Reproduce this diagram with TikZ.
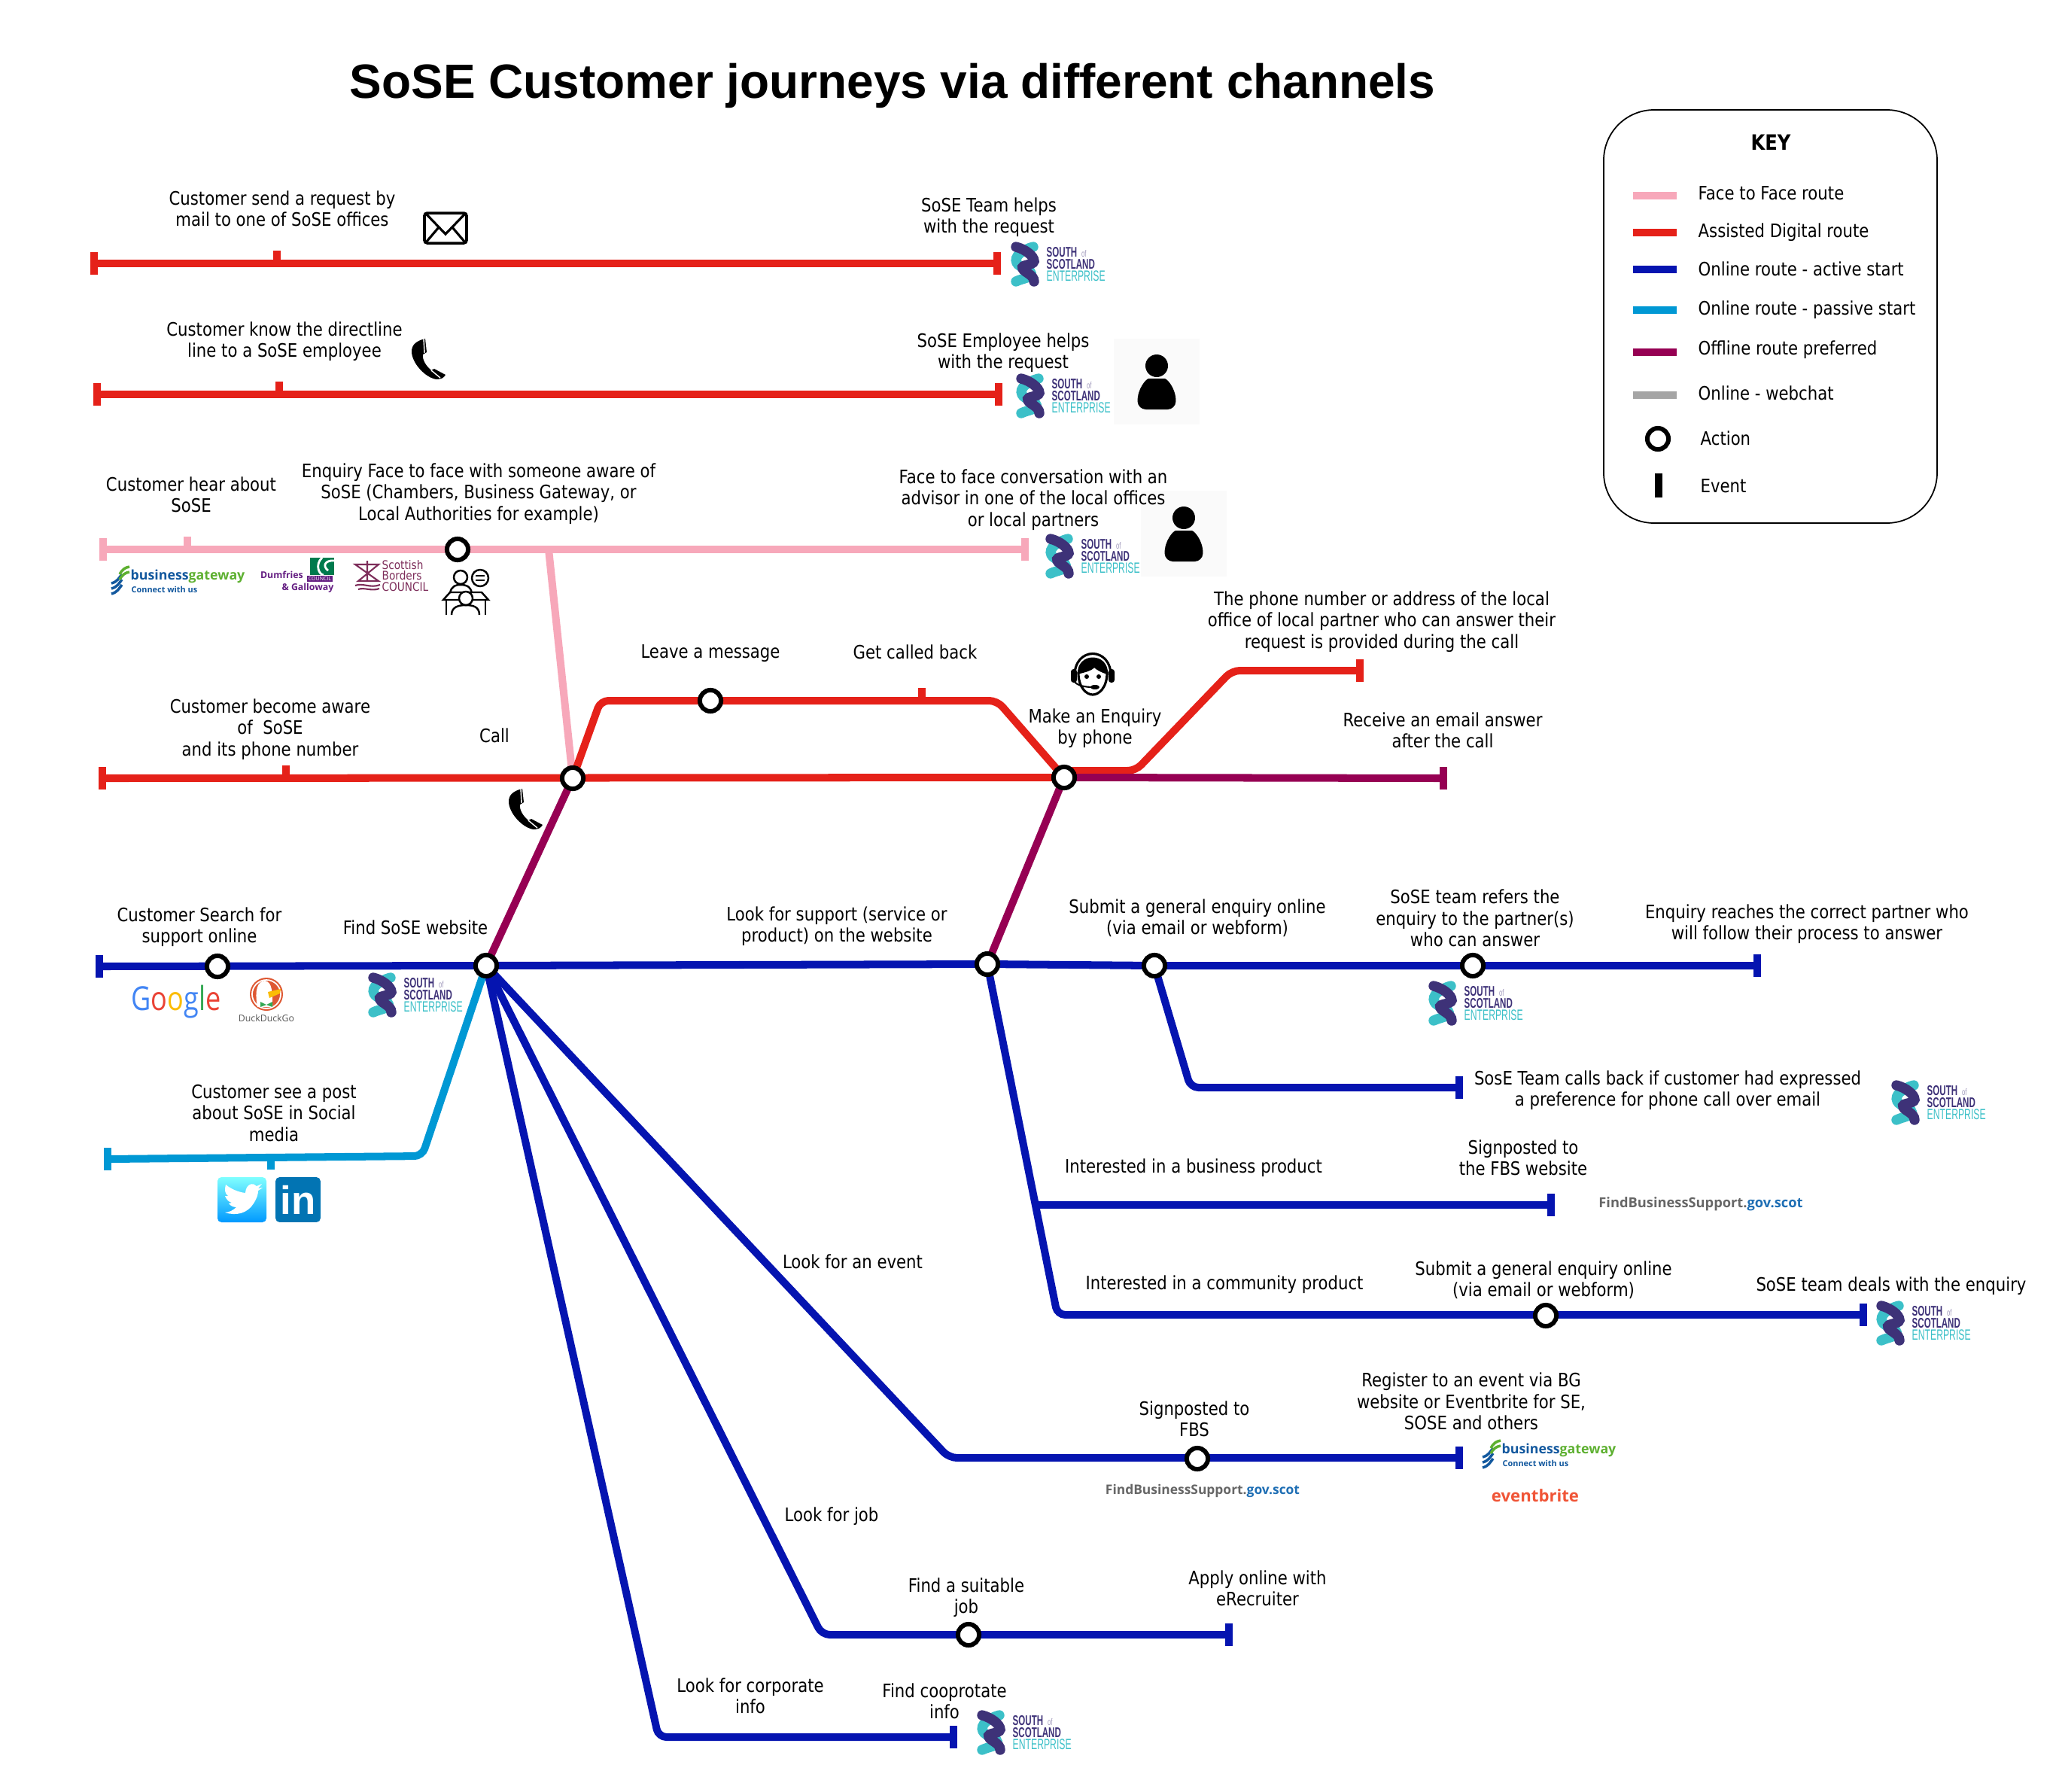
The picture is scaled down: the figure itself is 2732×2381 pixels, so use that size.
\documentclass[tikz,border=0pt]{standalone}
\usepackage{fontspec}
\setmainfont[FakeStretch=0.862]{DejaVu Sans}
\newfontfamily\titlefont{Liberation Sans}
\newfontfamily\logofont[FakeStretch=0.62]{Liberation Sans}
\newfontfamily\brandfont{Open Sans}
\usetikzlibrary{backgrounds}
\definecolor{facepink}{RGB}{247,168,186}
\definecolor{assistred}{RGB}{229,33,25}
\definecolor{onlineblue}{RGB}{5,20,176}
\definecolor{passivecyan}{RGB}{0,152,212}
\definecolor{offpurple}{RGB}{150,0,83}
\definecolor{chatgrey}{RGB}{165,165,165}
\definecolor{soseviolet}{RGB}{62,50,120}
\definecolor{soseteal}{RGB}{60,192,200}
\definecolor{bgblue}{RGB}{18,88,158}
\definecolor{bggreen}{RGB}{93,176,48}
\definecolor{dgpurple}{RGB}{100,30,130}
\definecolor{dggreen}{RGB}{0,122,77}
\definecolor{sbplum}{RGB}{125,45,90}
\definecolor{evorange}{RGB}{240,85,55}
\definecolor{govblue}{RGB}{30,110,180}
\definecolor{gblue}{RGB}{66,133,244}
\definecolor{gred}{RGB}{234,67,53}
\definecolor{gyellow}{RGB}{251,188,5}
\definecolor{ggreen}{RGB}{52,168,83}
\definecolor{duckorange}{RGB}{222,88,51}
\definecolor{inblue}{RGB}{2,116,179}
\newcommand{\LOGOTXT}[2]{{\logofont\fontsize{5.6}{5.6}\selectfont\textcolor{#1}{#2}}}
\newcommand{\LOGOBF}[2]{{\logofont\bfseries\fontsize{5.3}{5.6}\selectfont\textcolor{#1}{#2}}}
\tikzset{
  route/.style={line width=2.85pt,rounded corners=3pt},
  action/.style={circle,draw=black,fill=white,line width=1.7pt,minimum size=8pt,inner sep=0pt},
  evt/.style={rectangle,minimum width=2.9pt,minimum height=8.5pt,inner sep=0pt},
  stub/.style={rectangle,minimum width=2.9pt,minimum height=4.6pt,inner sep=0pt},
  lab/.style={align=center,inner sep=0pt,font=\fontsize{7}{8.05}\selectfont},
  swatch/.style={rectangle,minimum width=16.7pt,minimum height=2.9pt,inner sep=0pt},
  sose/.pic={
    \draw[soseteal,line width=3.8pt,line cap=round] (11,-23) .. controls (-4,-19) and (-15,-10) .. (-11,-2) .. controls (-8,5) and (7,6) .. (8,12) .. controls (9,18) and (-4,19) .. (-12,23);
    \draw[soseviolet,line width=3.8pt,line cap=round] (-12,-23) .. controls (0,-20) and (12,-11) .. (12,-4) .. controls (11,2) and (-6,0) .. (-3,6) .. controls (-1,11) and (12,14) .. (12,23);
    \node[anchor=west,inner sep=0pt] (-south) at (28,-16) {\LOGOBF{soseviolet}{SOUTH}\,\textcolor{soseviolet!50}{\logofont\fontsize{3.5}{4}\selectfont of}};
    \node[anchor=west,inner sep=0pt] (-scot) at (28,0) {\LOGOBF{soseviolet}{SCOTLAND}};
    \node[anchor=west,inner sep=0pt] (-ent) at (28,16) {\LOGOTXT{soseteal}{ENTERPRISE}};
  },
  bizgate/.pic={
    \foreach \k in {0,7,14}{\draw[bgblue,line width=1pt] (0,\k+3) .. controls (8,\k+1) and (10,\k-4) .. (14,\k-9);}
    \foreach \k in {-7,0}{\draw[bggreen,line width=1pt] (11,\k-2) .. controls (14,\k-8) and (18,\k-11) .. (24,\k-12);}
    \node[anchor=west,inner sep=0pt,font=\brandfont\bfseries\fontsize{5.05}{6}\selectfont] (-word) at (25,-6) {\textcolor{bgblue}{business}\textcolor{bggreen}{gateway}};
    \node[anchor=west,inner sep=0pt,font=\brandfont\bfseries\fontsize{3.1}{4}\selectfont,text=bgblue] (-tag) at (26,11) {Connect with us};
  },
  handset/.pic={
    \fill[black] (-5,-27) -- (-3,-9) -- (-8,-6) .. controls (-9,2) and (-3,10) .. (3,15) -- (7,13) -- (22,21) .. controls (20,25) and (16,27) .. (10,27) .. controls (-5,25) and (-23,5) .. (-23,-10) .. controls (-23,-18) and (-18,-24) .. (-5,-27) -- cycle;
    \draw[white,line width=.4pt] (-7,-27) -- (-6,-8) (3,15) -- (15,25);
  },
  person/.pic={
    \fill[black!2] (-57,-57) rectangle (57,57);
    \fill[black] (0,-21) circle (15);
    \fill[black,rounded corners=3pt] (-25,37) .. controls (-26,10) and (-14,-4) .. (0,-4) .. controls (14,-4) and (26,10) .. (25,37) -- cycle;
  }
}
\begin{document}
\begin{tikzpicture}[x=0.01cm,y=-0.01cm]
  \useasboundingbox (0,0) rectangle (2732,2381);
  \node[inner sep=0pt,font=\titlefont\bfseries\fontsize{18.18}{20}\selectfont] (title) at (1186,114) {SoSE Customer journeys via different channels};
  % stops on the routes
  \foreach \nm/\x/\y/\col in {rone/125/350/assistred,roneb/1325/350/assistred,rtwo/129/524/assistred,rtwob/1327/524/assistred,
    pinka/137/730/facepink,pinkb/1362/730/facepink,rthree/136/1034/assistred,rfar/1807/891/assistred,purz/1918/1034/offpurple,
    blua/132/1284/onlineblue,bluz/2335/1283/onlineblue,calls/1939/1445/onlineblue,fbs/2061/1601/onlineblue,deals/2476/1747/onlineblue,
    evnt/1939/1937/onlineblue,apply/1633/2172/onlineblue,corp/1267/2308/onlineblue,cyana/143/1540/passivecyan}{
    \node[evt,fill=\col] (\nm) at (\x,\y) {};
  }
  \foreach \nm/\x/\y/\col in {sone/368/350/assistred,stwo/371/524/assistred,spink/249/730/facepink,sthree/380/1034/assistred,sback/1225/931/assistred}{
    \node[stub,fill=\col,anchor=south] (\nm) at (\x,\y) {};
  }
  \node[stub,fill=passivecyan,anchor=north] (scyan) at (360,1537) {};
  \foreach \nm/\x/\y in {enqf/608/730,call/761/1034,leave/944/931,enq/1414/1033,srch/289/1284,find/646/1283,look/1312/1281,subm/1534/1283,refer/1957/1283,
    subb/2054/1748,signp/1591/1938,suit/1287/2172}{
    \node[action] (\nm) at (\x,\y) {};
  }
  \coordinate (pinkj) at (729,730);
  \coordinate (rbeg) at (1414,1024);
  \coordinate (junc) at (1375,1601);
  % routes go under the stops
  \begin{scope}[on background layer]
    \fill[white] (0,0) rectangle (2732,2381);
    \draw[route,facepink] (pinka.center) -- (pinkb.center);
    \draw[route,facepink] (pinkj) -- (call.center);
    \draw[route,assistred] (rone.center) -- (roneb.center);
    \draw[route,assistred] (rtwo.center) -- (rtwob.center);
    \draw[route,assistred] (rthree.center) -- (enq.center);
    \draw[route,assistred] (call.center) -- (798,931) -- (1325,931) -- (enq.center);
    \draw[route,assistred] (rbeg) -- (1509,1024) -- (1637,891) -- (rfar.center);
    \draw[route,offpurple] (enq.center) -- (purz.center);
    \draw[route,offpurple] (call.center) -- (find.center);
    \draw[route,offpurple] (enq.center) -- (look.center);
    \draw[route,onlineblue] (blua.center) -- (find.center) -- (look.center) -- (subm.center) -- (bluz.center);
    \draw[route,onlineblue] (subm.center) -- (1582,1445) -- (calls.center);
    \draw[route,onlineblue] (look.center) -- (1405,1747) -- (deals.center);
    \draw[route,onlineblue] (junc) -- (fbs.center);
    \draw[route,onlineblue] (find.center) -- (1261,1937) -- (evnt.center);
    \draw[route,onlineblue] (find.center) -- (1092,2172) -- (apply.center);
    \draw[route,onlineblue] (find.center) -- (875,2308) -- (corp.center);
    \draw[route,passivecyan] (find.center) -- (561,1536) -- (cyana.center);
  \end{scope}
  \pic (persona) at (1537,507) {person};
  \pic (personb) at (1573,709) {person};
  % labels
  \foreach \nm/\x/\y/\txt in {
    lsend/375/277/{Customer send a request by\\mail to one of SoSE offices},
    lteam/1314/289/{SoSE Team helps\\with the request},
    lknow/378/454/{Customer know the directline\\line to a SoSE employee},
    lemp/1333/469/{SoSE Employee helps\\with the request},
    lhear/254/657/{Customer hear about\\SoSE},
    lface/636/656/{Enquiry Face to face with someone aware of\\SoSE (Chambers, Business Gateway, or\\Local Authorities for example)},
    lconv/1373/664/{Face to face conversation with an\\advisor in one of the local offices\\or local partners},
    lnum/1836/826/{The phone number or address of the local\\office of local partner who can answer their\\request is provided during the call},
    lmsg/944/868/{Leave a message},
    lback/1216/866/{Get called back},
    lmake/1455/968/{Make an Enquiry\\by phone},
    lemail/1917/970/{Receive an email answer\\after the call},
    laware/359/969/{Customer become aware\\of~ SoSE\\and its phone number},
    lcall/657/977/{Call},
    lsearch/265/1232/{Customer Search for\\support online},
    lfind/552/1232/{Find SoSE website},
    lsupp/1112/1231/{Look for support (service or\\product) on the website},
    lsub/1591/1220/{Submit a general enquiry online\\(via email or webform)},
    lref/1960/1220/{SoSE team refers the\\enquiry to the partner(s)\\who can answer},
    lreach/2401/1228/{Enquiry reaches the correct partner who\\will follow their process to answer},
    lcalls/2216/1449/{SosE Team calls back if customer had expressed\\a preference for phone call over email},
    lpost/364/1479/{Customer see a post\\about SoSE in Social\\media},
    lbiz/1586/1552/{Interested in a business product},
    lsign/2024/1538/{Signposted to\\the FBS website},
    lcomm/1627/1707/{Interested in a community product},
    lsubb/2051/1701/{Submit a general enquiry online\\(via email or webform)},
    ldeal/2513/1709/{SoSE team deals with the enquiry},
    levent/1133/1676/{Look for an event},
    lsfbs/1587/1885/{Signposted to\\FBS},
    lreg/1955/1862/{Register to an event via BG\\website or Eventbrite for SE,\\SOSE and others},
    ljob/1105/2015/{Look for job},
    lsuit/1284/2123/{Find a suitable\\job},
    lapply/1671/2110/{Apply online with\\eRecruiter},
    lcorp/997/2253/{Look for corporate\\info},
    lcoop/1255/2260/{Find cooprotate\\info}}{
    \node[lab] (\nm) at (\x,\y) {\txt};
  }
  % logos
  \foreach \nm/\x/\y in {sosea/1362/351,soseb/1369/526,sosec/1408/739,sosed/508/1322,sosee/1917/1333,sosef/2532/1465,soseg/2512/1758,soseh/1317/2302}{
    \pic (\nm) at (\x,\y) {sose};
  }
  \pic (bgtop) at (148,772) {bizgate};
  \pic (bgevent) at (1970,1933) {bizgate};
  \node[font=\brandfont\bfseries\fontsize{6.3}{8}\selectfont,text=evorange,inner sep=0pt] (evbrite) at (2040,1987) {eventbrite};
  \foreach \nm/\x/\y/\sz in {fbsa/2260/1600/5.2,fbsb/1598/1981/4.95}{
    \node[font=\brandfont\bfseries\fontsize{\sz}{6}\selectfont,text=black!60,inner sep=0pt] (\nm) at (\x,\y) {FindBusinessSupport.\textcolor{govblue}{gov.scot}};
  }
  % council logos
  \node[anchor=east,inner sep=0pt,align=right,font=\brandfont\bfseries\fontsize{3.5}{4.6}\selectfont,text=dgpurple] (dumf) at (444,773) {Dumfries\hspace*{11.5pt}\\\& Galloway};
  \fill[dggreen] (412,741) rectangle (444,764);
  \draw[white,line width=.8pt] (428,741) .. controls (418,750) and (424,764) .. (430,764) (444,745) .. controls (432,744) and (428,752) .. (436,758);
  \node[fill=dgpurple,text=white,inner sep=.5pt,font=\brandfont\fontsize{2}{2}\selectfont] (dgbox) at (425,769) {COUNCIL};
  \node[anchor=west,inner sep=0pt,align=left,text=sbplum,font=\fontsize{4.5}{4.1}\selectfont] (borders) at (507,765) {Scottish\\Borders\\COUNCIL};
  \draw[sbplum,line width=.6pt] (472,750) -- (503,750) -- (476,772) -- (503,772) -- cycle (488,745) -- (488,772) (472,778) .. controls (482,774) and (492,782) .. (505,777) (476,783) .. controls (484,780) and (494,786) .. (504,782);
  % search and social
  \node[inner sep=0pt,font=\brandfont\fontsize{12.5}{14}\selectfont] (google) at (234,1331) {\scalebox{.82}[1]{\textcolor{gblue}{G}\textcolor{gred}{o}\textcolor{gyellow}{o}\textcolor{gblue}{g}\textcolor{ggreen}{l}\textcolor{gred}{e}}};
  \fill[duckorange] (354,1321) circle (22);
  \draw[white,line width=.5pt] (354,1321) circle (19);
  \fill[white] (342,1338) .. controls (338,1315) and (342,1304) .. (352,1303) .. controls (362,1305) and (362,1318) .. (362,1338) -- cycle;
  \fill[gyellow] (356,1318) -- (373,1314) -- (372,1320) -- (358,1326) -- cycle;
  \fill[ggreen] (346,1331) -- (354,1335) -- (362,1331) -- (362,1338) -- (354,1335) -- (346,1338) -- cycle;
  \node[inner sep=0pt,text=black!65,font=\brandfont\fontsize{3.5}{4}\selectfont] (duck) at (354,1353) {DuckDuckGo};
  \shade[top color=cyan!50,bottom color=blue!40!cyan,rounded corners=1.5pt] (289,1564) rectangle (354,1624);
  \begin{scope}[shift={(289,1564)}]
    \fill[white] (10,47) .. controls (25,52) and (40,48) .. (48,35) .. controls (53,27) and (54,22) .. (54,18) -- (60,14) -- (54,15) -- (59,9) -- (52,12) .. controls (48,7) and (38,8) .. (37,21) .. controls (27,20) and (17,15) .. (11,10) .. controls (9,17) and (10,22) .. (14,25) -- (10,25) .. controls (12,30) and (15,33) .. (19,34) -- (15,35) .. controls (17,38) and (21,40) .. (25,40) .. controls (21,44) and (15,47) .. (10,47) -- cycle;
  \end{scope}
  \node[fill=inblue,rounded corners=1.5pt,minimum width=17pt,minimum height=17pt,inner sep=0pt,text=white,font=\titlefont\bfseries\fontsize{15}{15}\selectfont] (linkedin) at (396,1594) {in};
  % icons
  \draw[black,line width=1pt,rounded corners=1pt] (564,283) rectangle (620,323);
  \draw[black,line width=.9pt] (566,284) -- (592,311) -- (618,284) (566,322) -- (583,302) (618,322) -- (601,302);
  \pic (phonea) at (570,477) {handset};
  \pic (phoneb) at (699,1075) {handset};
  \begin{scope}[shift={(1452,896)}]
    \draw[black,line width=.9pt] (-24,4) .. controls (-26,-38) and (26,-38) .. (24,4);
    \fill[black] (-20,0) .. controls (-22,-30) and (22,-30) .. (20,0) -- cycle;
    \filldraw[fill=white,draw=black,line width=.9pt] (-19,-2) .. controls (-19,18) and (-8,27) .. (0,27) .. controls (8,27) and (19,18) .. (19,-2) .. controls (14,-3) and (6,-7) .. (2,-11) .. controls (-2,-6) and (-12,-4) .. (-19,-2) -- cycle;
    \fill[black] (-8,3) circle (3) (8,3) circle (3);
    \fill[black,rounded corners=1pt] (-29,-7) rectangle (-21,11) (21,-7) rectangle (29,11);
    \draw[black,line width=.6pt] (-24,10) .. controls (-20,15) and (-10,17) .. (0,17);
    \fill[black] (3,17) ellipse (6 and 3);
  \end{scope}
  \begin{scope}[black,line width=.7pt]
    \draw (612,767) circle (9);
    \draw (598,788) .. controls (600,778) and (606,777) .. (612,777) .. controls (618,777) and (625,778) .. (627,788);
    \draw (638,768) circle (11);
    \draw (632,765) -- (644,765) (632,771) -- (644,771);
    \draw (598,787) -- (589,797) -- (649,797) -- (640,787) -- cycle;
    \draw (593,797) -- (593,817) (645,797) -- (645,817);
    \filldraw[fill=white] (619,795) circle (9);
    \draw (600,817) .. controls (600,806) and (610,804) .. (619,804) .. controls (628,804) and (637,806) .. (637,817);
  \end{scope}
  % key
  \draw[black,line width=.5pt,rounded corners=19pt] (2131,146) rectangle (2574,695);
  \node[inner sep=0pt,font=\bfseries\fontsize{8}{8}\selectfont] (keyhead) at (2353,189) {KEY};
  \foreach \nm/\y/\col in {keya/260/facepink,keyb/309/assistred,keyc/358/onlineblue,keyd/412/passivecyan,keye/468/offpurple,keyf/525/chatgrey}{
    \node[swatch,fill=\col] (\nm) at (2199,\y) {};
  }
  \foreach \nm/\y/\txt in {ktxa/257/Face to Face route,ktxb/309/Assisted Digital route,ktxc/357/Online route - active start,ktxd/412/Online route - passive start,ktxe/465/Offline route preferred,ktxf/522/Online - webchat}{
    \node[lab,anchor=west] (\nm) at (2256,\y) {\txt};
  }
  \node[action] (keyact) at (2203,583) {};
  \node[evt,fill=black,minimum height=9pt] (keyevt) at (2204,645) {};
  \node[lab,anchor=west] (ktxg) at (2259,582) {Action};
  \node[lab,anchor=west] (ktxh) at (2259,646) {Event};
\end{tikzpicture}
\end{document}
